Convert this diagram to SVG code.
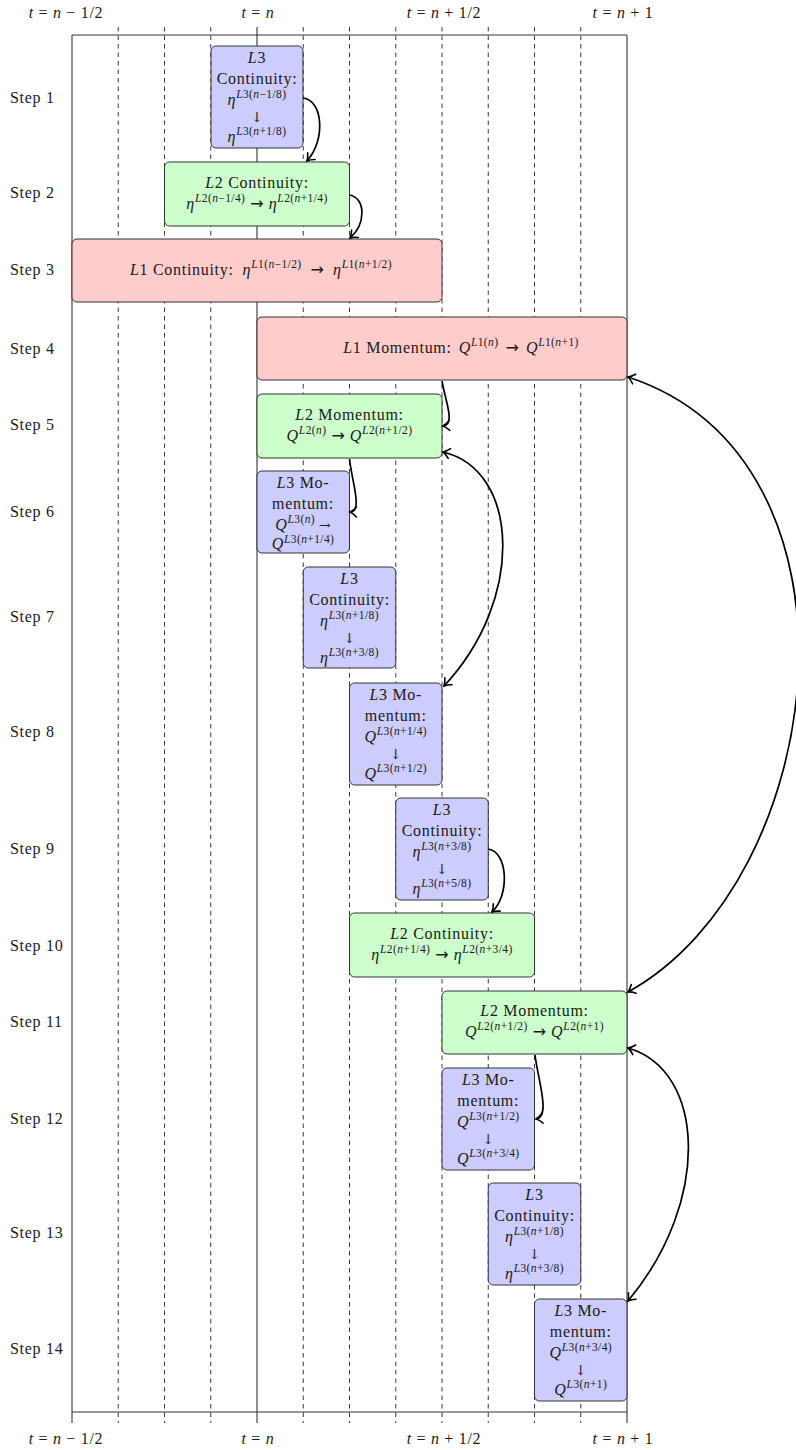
<svg xmlns="http://www.w3.org/2000/svg" width="796" height="1450" viewBox="0 0 796 1450">
<style>
.t{font-family:"Liberation Serif","DejaVu Serif",serif;font-size:16px;letter-spacing:0.7px;fill:#1a1a1a}
.m{text-anchor:middle}
.i{font-style:italic}
.s{font-size:11.5px;letter-spacing:0.4px}
.a{font-family:"DejaVu Serif",serif;font-size:14px;letter-spacing:0}
.r{font-family:"DejaVu Sans",sans-serif;font-size:16px;letter-spacing:0}
.dash{stroke:#222;stroke-width:0.9;stroke-dasharray:4.5 4;fill:none}
.solid{stroke:#333;stroke-width:1.1;fill:none}
.box{stroke:#333;stroke-width:1}
.l3{fill:#ccccff}
.l2{fill:#ccffcc}
.l1{fill:#ffcccc}
.c{fill:none;stroke:#000;stroke-width:1.7}
</style>
<defs>
<marker id="ah" viewBox="-8 -6 10 12" refX="0" refY="0" markerWidth="10" markerHeight="12" markerUnits="userSpaceOnUse" orient="auto-start-reverse">
<path d="M-6.5,-5 Q-3,-1.2 0,0 Q-3,1.2 -6.5,5" fill="none" stroke="#000" stroke-width="1.6" stroke-linecap="round"/>
</marker>
</defs>
<rect width="796" height="1450" fill="#fff"/>
<g id="grid">
<line class="solid" x1="72" y1="35" x2="627" y2="35"/>
<line class="solid" x1="72" y1="1412" x2="627" y2="1412"/>
<line class="solid" x1="72" y1="35" x2="72" y2="1423"/>
<line class="solid" x1="257" y1="27" x2="257" y2="1423"/>
<line class="solid" x1="627" y1="35" x2="627" y2="1423"/>
<line class="dash" x1="118.25" y1="27" x2="118.25" y2="1423"/>
<line class="dash" x1="164.5" y1="27" x2="164.5" y2="1423"/>
<line class="dash" x1="210.75" y1="27" x2="210.75" y2="1423"/>
<line class="dash" x1="303.25" y1="27" x2="303.25" y2="1423"/>
<line class="dash" x1="349.5" y1="27" x2="349.5" y2="1423"/>
<line class="dash" x1="395.75" y1="27" x2="395.75" y2="1423"/>
<line class="dash" x1="442" y1="27" x2="442" y2="1423"/>
<line class="dash" x1="488.25" y1="27" x2="488.25" y2="1423"/>
<line class="dash" x1="534.5" y1="27" x2="534.5" y2="1423"/>
<line class="dash" x1="580.75" y1="27" x2="580.75" y2="1423"/>
</g>
<g id="time-labels">
<text class="t m" x="66" y="18"><tspan class="i">t</tspan> = <tspan class="i">n</tspan> − 1/2</text>
<text class="t m" x="258" y="18"><tspan class="i">t</tspan> = <tspan class="i">n</tspan></text>
<text class="t m" x="444" y="18"><tspan class="i">t</tspan> = <tspan class="i">n</tspan> + 1/2</text>
<text class="t m" x="623" y="18"><tspan class="i">t</tspan> = <tspan class="i">n</tspan> + 1</text>
<text class="t m" x="66" y="1444"><tspan class="i">t</tspan> = <tspan class="i">n</tspan> − 1/2</text>
<text class="t m" x="258" y="1444"><tspan class="i">t</tspan> = <tspan class="i">n</tspan></text>
<text class="t m" x="444" y="1444"><tspan class="i">t</tspan> = <tspan class="i">n</tspan> + 1/2</text>
<text class="t m" x="623" y="1444"><tspan class="i">t</tspan> = <tspan class="i">n</tspan> + 1</text>
</g>
<g id="step-labels">
<text class="t" x="10" y="103">Step 1</text>
<text class="t" x="10" y="198">Step 2</text>
<text class="t" x="10" y="275">Step 3</text>
<text class="t" x="10" y="354">Step 4</text>
<text class="t" x="10" y="430">Step 5</text>
<text class="t" x="10" y="517">Step 6</text>
<text class="t" x="10" y="622">Step 7</text>
<text class="t" x="10" y="737">Step 8</text>
<text class="t" x="10" y="854">Step 9</text>
<text class="t" x="10" y="951">Step 10</text>
<text class="t" x="10" y="1027">Step 11</text>
<text class="t" x="10" y="1124">Step 12</text>
<text class="t" x="10" y="1238">Step 13</text>
<text class="t" x="10" y="1354">Step 14</text>
</g>
<g id="step1">
<rect class="box l3" x="211" y="46" width="92" height="102" rx="5"/>
<text class="t m" x="257" y="63"><tspan class="i">L</tspan>3</text>
<text class="t m" x="257" y="84">Continuity:</text>
<text class="t m" x="257" y="105"><tspan class="i">η</tspan><tspan class="s" dy="-7"><tspan class="i">L</tspan>3(<tspan class="i">n</tspan>−1/8)</tspan></text>
<text class="t m a" x="257" y="122">↓</text>
<text class="t m" x="257" y="142"><tspan class="i">η</tspan><tspan class="s" dy="-7"><tspan class="i">L</tspan>3(<tspan class="i">n</tspan>+1/8)</tspan></text>
</g>
<g id="step2">
<rect class="box l2" x="164.5" y="162" width="185" height="64" rx="5"/>
<text class="t m" x="257" y="188"><tspan class="i">L</tspan>2 Continuity:</text>
<text class="t m" x="257" y="209"><tspan class="i">η</tspan><tspan class="s" dy="-7"><tspan class="i">L</tspan>2(<tspan class="i">n</tspan>−1/4)</tspan><tspan class="r" dy="7" dx="5">→</tspan><tspan class="i" dx="5">η</tspan><tspan class="s" dy="-7"><tspan class="i">L</tspan>2(<tspan class="i">n</tspan>+1/4)</tspan></text>
</g>
<g id="step3">
<rect class="box l1" x="72" y="239" width="370" height="63" rx="5"/>
<text class="t m" x="261" y="275"><tspan class="i">L</tspan>1 Continuity:<tspan class="i" dx="9">η</tspan><tspan class="s" dy="-7"><tspan class="i">L</tspan>1(<tspan class="i">n</tspan>−1/2)</tspan><tspan class="r" dy="7" dx="9">→</tspan><tspan class="i" dx="9">η</tspan><tspan class="s" dy="-7"><tspan class="i">L</tspan>1(<tspan class="i">n</tspan>+1/2)</tspan></text>
</g>
<g id="step4">
<rect class="box l1" x="257" y="317" width="370" height="63" rx="5"/>
<text class="t m" x="461" y="353"><tspan class="i">L</tspan>1 Momentum:<tspan class="i" dx="7">Q</tspan><tspan class="s" dy="-7"><tspan class="i">L</tspan>1(<tspan class="i">n</tspan>)</tspan><tspan class="r" dy="7" dx="7">→</tspan><tspan class="i" dx="7">Q</tspan><tspan class="s" dy="-7"><tspan class="i">L</tspan>1(<tspan class="i">n</tspan>+1)</tspan></text>
</g>
<g id="step5">
<rect class="box l2" x="257" y="394" width="185" height="64" rx="5"/>
<text class="t m" x="349.5" y="420"><tspan class="i">L</tspan>2 Momentum:</text>
<text class="t m" x="349.5" y="441"><tspan class="i">Q</tspan><tspan class="s" dy="-7"><tspan class="i">L</tspan>2(<tspan class="i">n</tspan>)</tspan><tspan class="r" dy="7" dx="5">→</tspan><tspan class="i" dx="5">Q</tspan><tspan class="s" dy="-7"><tspan class="i">L</tspan>2(<tspan class="i">n</tspan>+1/2)</tspan></text>
</g>
<g id="step6">
<rect class="box l3" x="257" y="471" width="92.5" height="82" rx="5"/>
<text class="t m" x="303" y="488"><tspan class="i">L</tspan>3 Mo-</text>
<text class="t m" x="303" y="509">mentum:</text>
<text class="t m" x="303" y="530"><tspan class="i">Q</tspan><tspan class="s" dy="-7"><tspan class="i">L</tspan>3(<tspan class="i">n</tspan>)</tspan><tspan class="a" dy="7" dx="4">→</tspan></text>
<text class="t m" x="303" y="549"><tspan class="i">Q</tspan><tspan class="s" dy="-6"><tspan class="i">L</tspan>3(<tspan class="i">n</tspan>+1/4)</tspan></text>
</g>
<g id="step7">
<rect class="box l3" x="303.25" y="567" width="92.5" height="101" rx="5"/>
<text class="t m" x="349.5" y="584"><tspan class="i">L</tspan>3</text>
<text class="t m" x="349.5" y="605">Continuity:</text>
<text class="t m" x="349.5" y="626"><tspan class="i">η</tspan><tspan class="s" dy="-7"><tspan class="i">L</tspan>3(<tspan class="i">n</tspan>+1/8)</tspan></text>
<text class="t m a" x="349.5" y="643">↓</text>
<text class="t m" x="349.5" y="663"><tspan class="i">η</tspan><tspan class="s" dy="-7"><tspan class="i">L</tspan>3(<tspan class="i">n</tspan>+3/8)</tspan></text>
</g>
<g id="step8">
<rect class="box l3" x="349.5" y="683" width="92.5" height="102" rx="5"/>
<text class="t m" x="395.75" y="700"><tspan class="i">L</tspan>3 Mo-</text>
<text class="t m" x="395.75" y="721">mentum:</text>
<text class="t m" x="395.75" y="742"><tspan class="i">Q</tspan><tspan class="s" dy="-7"><tspan class="i">L</tspan>3(<tspan class="i">n</tspan>+1/4)</tspan></text>
<text class="t m a" x="395.75" y="759">↓</text>
<text class="t m" x="395.75" y="779"><tspan class="i">Q</tspan><tspan class="s" dy="-7"><tspan class="i">L</tspan>3(<tspan class="i">n</tspan>+1/2)</tspan></text>
</g>
<g id="step9">
<rect class="box l3" x="395.75" y="798" width="92.5" height="102" rx="5"/>
<text class="t m" x="442" y="815"><tspan class="i">L</tspan>3</text>
<text class="t m" x="442" y="836">Continuity:</text>
<text class="t m" x="442" y="857"><tspan class="i">η</tspan><tspan class="s" dy="-7"><tspan class="i">L</tspan>3(<tspan class="i">n</tspan>+3/8)</tspan></text>
<text class="t m a" x="442" y="874">↓</text>
<text class="t m" x="442" y="894"><tspan class="i">η</tspan><tspan class="s" dy="-7"><tspan class="i">L</tspan>3(<tspan class="i">n</tspan>+5/8)</tspan></text>
</g>
<g id="step10">
<rect class="box l2" x="349.5" y="913" width="185" height="64" rx="5"/>
<text class="t m" x="442" y="939"><tspan class="i">L</tspan>2 Continuity:</text>
<text class="t m" x="442" y="960"><tspan class="i">η</tspan><tspan class="s" dy="-7"><tspan class="i">L</tspan>2(<tspan class="i">n</tspan>+1/4)</tspan><tspan class="r" dy="7" dx="5">→</tspan><tspan class="i" dx="5">η</tspan><tspan class="s" dy="-7"><tspan class="i">L</tspan>2(<tspan class="i">n</tspan>+3/4)</tspan></text>
</g>
<g id="step11">
<rect class="box l2" x="442" y="991" width="185" height="63" rx="5"/>
<text class="t m" x="534.5" y="1016"><tspan class="i">L</tspan>2 Momentum:</text>
<text class="t m" x="534.5" y="1037"><tspan class="i">Q</tspan><tspan class="s" dy="-7"><tspan class="i">L</tspan>2(<tspan class="i">n</tspan>+1/2)</tspan><tspan class="r" dy="7" dx="5">→</tspan><tspan class="i" dx="5">Q</tspan><tspan class="s" dy="-7"><tspan class="i">L</tspan>2(<tspan class="i">n</tspan>+1)</tspan></text>
</g>
<g id="step12">
<rect class="box l3" x="442" y="1068" width="92.5" height="102" rx="5"/>
<text class="t m" x="488.25" y="1085"><tspan class="i">L</tspan>3 Mo-</text>
<text class="t m" x="488.25" y="1106">mentum:</text>
<text class="t m" x="488.25" y="1127"><tspan class="i">Q</tspan><tspan class="s" dy="-7"><tspan class="i">L</tspan>3(<tspan class="i">n</tspan>+1/2)</tspan></text>
<text class="t m a" x="488.25" y="1144">↓</text>
<text class="t m" x="488.25" y="1164"><tspan class="i">Q</tspan><tspan class="s" dy="-7"><tspan class="i">L</tspan>3(<tspan class="i">n</tspan>+3/4)</tspan></text>
</g>
<g id="step13">
<rect class="box l3" x="488.25" y="1183" width="92.5" height="102" rx="5"/>
<text class="t m" x="534.5" y="1200"><tspan class="i">L</tspan>3</text>
<text class="t m" x="534.5" y="1221">Continuity:</text>
<text class="t m" x="534.5" y="1242"><tspan class="i">η</tspan><tspan class="s" dy="-7"><tspan class="i">L</tspan>3(<tspan class="i">n</tspan>+1/8)</tspan></text>
<text class="t m a" x="534.5" y="1259">↓</text>
<text class="t m" x="534.5" y="1279"><tspan class="i">η</tspan><tspan class="s" dy="-7"><tspan class="i">L</tspan>3(<tspan class="i">n</tspan>+3/8)</tspan></text>
</g>
<g id="step14">
<rect class="box l3" x="534.5" y="1299" width="92.5" height="102" rx="5"/>
<text class="t m" x="580.75" y="1316"><tspan class="i">L</tspan>3 Mo-</text>
<text class="t m" x="580.75" y="1337">mentum:</text>
<text class="t m" x="580.75" y="1358"><tspan class="i">Q</tspan><tspan class="s" dy="-7"><tspan class="i">L</tspan>3(<tspan class="i">n</tspan>+3/4)</tspan></text>
<text class="t m a" x="580.75" y="1375">↓</text>
<text class="t m" x="580.75" y="1395"><tspan class="i">Q</tspan><tspan class="s" dy="-7"><tspan class="i">L</tspan>3(<tspan class="i">n</tspan>+1)</tspan></text>
</g>
<g id="connectors">
<path class="c" d="M303,98 C323,100 326,140 307,161" marker-end="url(#ah)"/>
<path class="c" d="M349.5,195 C366,198 366,224 350,238" marker-end="url(#ah)"/>
<path class="c" d="M442,381 C445,400 456,425 443,426" marker-end="url(#ah)"/>
<path class="c" d="M349.5,459 C352,482 363,512 350,512" marker-end="url(#ah)"/>
<path class="c" d="M443,452 C520,470 525,600 444,686" marker-start="url(#ah)" marker-end="url(#ah)"/>
<path class="c" d="M628,377 C880,460 830,880 628,992" marker-start="url(#ah)" marker-end="url(#ah)"/>
<path class="c" d="M488.25,849 C508,852 510,895 492,912" marker-end="url(#ah)"/>
<path class="c" d="M535,1055 C538,1080 551,1117 536,1119" marker-end="url(#ah)"/>
<path class="c" d="M628,1048 C705,1070 712,1200 628,1301" marker-start="url(#ah)" marker-end="url(#ah)"/>
</g>
</svg>
